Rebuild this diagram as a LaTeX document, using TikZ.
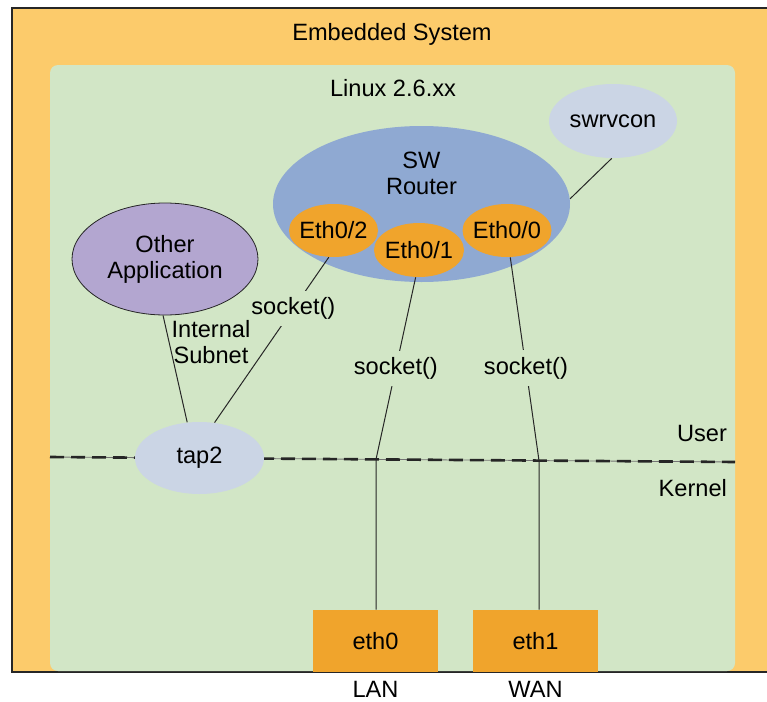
\documentclass[tikz,border=0pt]{standalone}
\usepackage{fontspec}
\setmainfont{Liberation Sans}
\usetikzlibrary{shapes.geometric}
\definecolor{embedded}{HTML}{FCCB6B}
\definecolor{linux}{HTML}{D2E6C6}
\definecolor{router}{HTML}{8FA9D2}
\definecolor{helper}{HTML}{CBD5E5}
\definecolor{port}{HTML}{F0A42C}
\definecolor{app}{HTML}{B3A6D0}
\colorlet{ink}{black!85}

\begin{document}
\begin{tikzpicture}[x=0.5pt,y=-0.5pt,font=\fontsize{11.8}{13}\selectfont,
  blob/.style={ellipse,inner sep=0pt,align=center},
  eth/.style={blob,fill=port,minimum width=44.5pt,minimum height=26.5pt},
  iface/.style={fill=port,minimum width=62.5pt,minimum height=31pt},
  link/.style={draw=ink,line width=0.5pt},
  call/.style={fill=linux,inner xsep=1pt}]

\useasboundingbox (0,0) rectangle (767,702);
\fill[embedded] (12,8) rectangle (767,672);
\draw[ink,line width=0.8pt] (767,8) -- (12,8) -- (12,672) -- (767,672);
\fill[linux,rounded corners=4pt] (50,65) rectangle (735,671);

\node (system) at (392,34) {Embedded System};
\node (os) at (393,88) {Linux 2.6.xx};

\coordinate (split west) at (50,457);
\coordinate (split east) at (735,462);
\draw[black!55,line width=0.4pt] (split west) -- (split east);
\draw[ink,line width=1.3pt,dash pattern=on 7pt off 3.5pt] (split west) -- (split east);
\node[anchor=east] (user) at (734,433) {User};
\node[anchor=east] (kernel) at (734,488) {Kernel};

\node[blob,fill=router,minimum width=148.5pt,minimum height=78pt,
  label={[align=center,yshift=15.5pt]center:SW\\Router}] (router) at (421.5,204) {};
\node[blob,fill=helper,minimum width=64pt,minimum height=37pt] (swrvcon) at (613,121) {swrvcon};
\node[eth] (eth02) at (333.5,230.5) {\makebox[0pt]{Eth0/2}};
\node[eth,minimum width=45pt,minimum height=27pt] (eth01) at (419,250) {\makebox[0pt]{Eth0/1}};
\node[eth] (eth00) at (507,230.5) {\makebox[0pt]{Eth0/0}};
\node[blob,fill=app,draw=ink,line width=0.4pt,minimum width=93pt,minimum height=56pt] (otherapp) at (165,259) {Other\\Application};
\node[blob,fill=helper,minimum width=64.5pt,minimum height=36pt] (tap) at (199.5,458) {tap2};
\node[iface] (eth0) at (375.5,641) {eth0};
\node[iface] (eth1) at (535.5,641) {eth1};
\node (lan) at (375.5,689) {LAN};
\node (wan) at (535.5,689) {WAN};

\coordinate (lan split) at (376,459.4);
\coordinate (wan split) at (539,460.6);
\draw[link] (swrvcon.-92) -- (router.2);
\draw[link] (eth02.-100) -- node[call,pos=0.31] {socket()} (tap.67);
\draw[link] (otherapp.-92) -- node[pos=0.25,anchor=west,align=center,inner sep=1pt] {Internal\\Subnet} (tap.109);
\draw[link] (eth01.-97) -- node[call] {socket()} (lan split) -- (lan split |- eth0.north);
\draw[link] (eth00.-83) -- node[call,pos=0.545] {socket()} (wan split) -- (wan split |- eth1.north);

\end{tikzpicture}
\end{document}
